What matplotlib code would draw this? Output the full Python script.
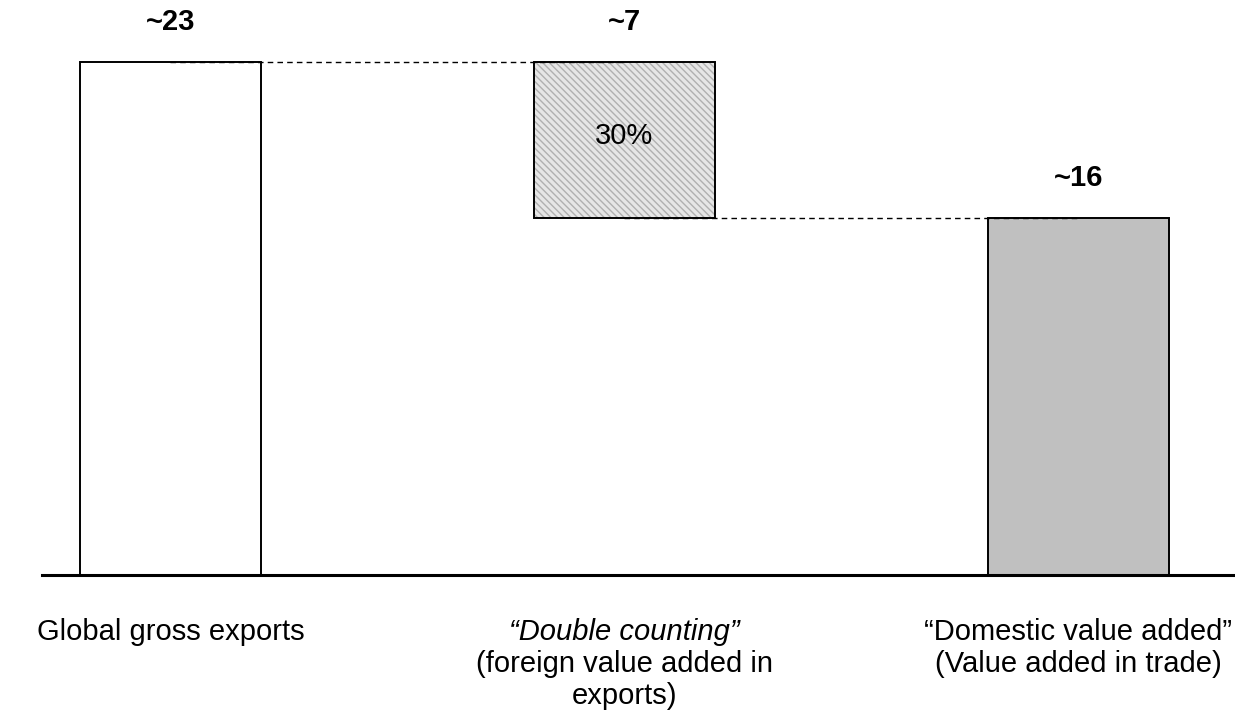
import matplotlib.pyplot as plt
import numpy as np

plt.rcParams['font.family'] = ['Liberation Sans', 'DejaVu Sans']

# values (trillion USD, approximate)
steps = ["gross", "double", "domestic"]
gross_exports = 23
double_counting = 7
domestic_va = gross_exports - double_counting  # ~16
value_labels = ["~23", "~7", "~16"]
share_label = "30%"

cat_line1 = ["Global gross exports", "\u201cDouble counting\u201d", "\u201cDomestic value added\u201d"]
cat_rest = [[], ["(foreign value added in", "exports)"], ["(Value added in trade)"]]
line1_italic = [False, True, False]

bottoms = [0, domestic_va, 0]
heights = [gross_exports, double_counting, domestic_va]
tops = [b + h for b, h in zip(bottoms, heights)]

fig = plt.figure(figsize=(12.35, 7.17), dpi=100)
ax = fig.add_axes([42 / 1235, 142 / 717, 1 - 42 / 1235, 575 / 717])
px = 513 / gross_exports  # pixels per unit
ax.set_ylim(0, 575 / px)
ax.set_xlim(-0.283, 2.345)

x = np.arange(len(steps))
w = 0.4
fs = 21

# plain bar, hatched bar, grey bar
ax.bar(x[0], heights[0], bottom=bottoms[0], width=w, color="white",
       edgecolor="black", lw=1.4, zorder=2)
plt.rcParams['hatch.linewidth'] = 1.0
ax.bar(x[1], heights[1], bottom=bottoms[1], width=w, color="#e6e6e6",
       edgecolor="#b0b0b0", hatch="\\\\\\\\\\", lw=0, zorder=2)
ax.bar(x[1], heights[1], bottom=bottoms[1], width=w, fill=False,
       edgecolor="black", lw=1.4, zorder=3)
ax.bar(x[2], heights[2], bottom=bottoms[2], width=w, color="#c0c0c0",
       edgecolor="black", lw=1.4, zorder=2)

# connectors between bars
ax.plot([x[0], x[1]], [tops[0], tops[0]], color="black", lw=1, ls=(0, (4, 3)), zorder=4)
ax.plot([x[1], x[2]], [bottoms[1], bottoms[1]], color="black", lw=1, ls=(0, (4, 3)), zorder=4)

ax.axhline(0, color="black", lw=2.2, zorder=5, clip_on=False)

# value labels
for i, lab in enumerate(value_labels):
    ax.text(x[i], tops[i] + 40 / px, lab, ha="center", va="center",
            fontsize=fs, fontweight="bold")
ax.text(x[1], bottoms[1] + heights[1] / 2 + 4 / px, share_label,
        ha="center", va="center", fontsize=fs)

# category labels
for i in range(len(steps)):
    ax.text(x[i], -57 / px, cat_line1[i], ha="center", va="center", fontsize=fs,
            style="italic" if line1_italic[i] else "normal", clip_on=False)
    for j, line in enumerate(cat_rest[i]):
        ax.text(x[i], -(57 + 32 * (j + 1)) / px, line, ha="center", va="center",
                fontsize=fs, clip_on=False)

ax.axis("off")
fig.savefig("out.png", dpi=100)
